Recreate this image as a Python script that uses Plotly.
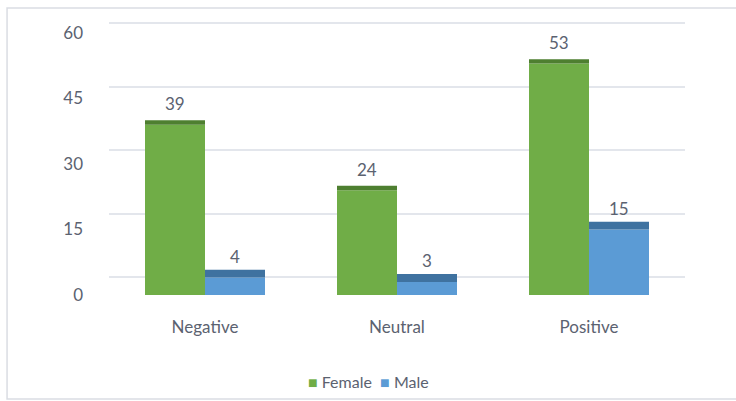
import plotly.graph_objects as go

# données
categories = ['Negative', 'Neutral', 'Positive']
female = [39, 24, 53]
male = [4, 3, 15]
y_ticks = [0, 15, 30, 45, 60]

vert = '#70AD47'
vert_fonce = '#4E7F30'
bleu = '#5B9BD5'
bleu_fonce = '#3F72A0'
gris_texte = '#5B6270'
police = 'Lato'

# épaisseur du "dessus" des barres (effet 3D), en unités de l'axe
ep_f = 1.0
ep_m = 1.8

fig = go.Figure()

fig.add_trace(go.Bar(x=categories, y=female, name='Female',
                     marker=dict(color=vert, line=dict(width=0)),
                     offsetgroup='f'))
fig.add_trace(go.Bar(x=categories, y=male, name='Male',
                     marker=dict(color=bleu, line=dict(width=0)),
                     offsetgroup='m'))

# dessus des barres
fig.add_trace(go.Bar(x=categories, y=[ep_f] * len(female), base=female,
                     marker=dict(color=vert_fonce, line=dict(width=0)),
                     offsetgroup='f', showlegend=False, hoverinfo='skip'))
fig.add_trace(go.Bar(x=categories, y=[ep_m] * len(male), base=male,
                     marker=dict(color=bleu_fonce, line=dict(width=0)),
                     offsetgroup='m', showlegend=False, hoverinfo='skip'))

# trace invisible pour afficher l'axe du fond
fig.add_trace(go.Scatter(x=categories, y=[0] * len(categories), yaxis='y2',
                         mode='markers', marker=dict(opacity=0),
                         showlegend=False, hoverinfo='skip'))

# étiquettes de valeurs
annotations = []
for cat, f, m in zip(categories, female, male):
    annotations.append(dict(x=cat, y=f, xref='x', yref='y', text=str(f),
                            xshift=-30, yshift=21, showarrow=False,
                            font=dict(family=police, size=17, color=gris_texte)))
    annotations.append(dict(x=cat, y=m, xref='x', yref='y', text=str(m),
                            xshift=30, yshift=21, showarrow=False,
                            font=dict(family=police, size=17, color=gris_texte)))

# légende façon Excel
annotations.append(dict(xref='paper', yref='paper', x=0.45, y=-0.314,
                        xanchor='center', yanchor='middle', showarrow=False,
                        text="<span style='color:%s'>■</span> Female  "
                             "<span style='color:%s'>■</span> Male" % (vert, bleu),
                        font=dict(family=police, size=16, color=gris_texte)))

fig.update_layout(
    width=736, height=401,
    barmode='group',
    bargap=0.375,
    bargroupgap=0,
    paper_bgcolor='white',
    plot_bgcolor='rgba(0,0,0,0)',
    margin=dict(l=109, r=51, t=18, b=106),
    font=dict(family=police, size=17, color=gris_texte),
    showlegend=False,
    xaxis=dict(
        showgrid=False, zeroline=False, showline=False,
        ticks='', ticklabelstandoff=20,
        tickfont=dict(family=police, size=17, color=gris_texte),
    ),
    yaxis=dict(
        range=[0, 63.43],
        tickvals=y_ticks,
        showgrid=False,
        zeroline=False, showline=False,
        ticks='', ticklabelstandoff=25,
        tickfont=dict(family=police, size=17, color=gris_texte),
    ),
    # paroi du fond (effet 3D) : quadrillage décalé vers le haut
    yaxis2=dict(
        overlaying='y', side='left',
        range=[-4.25, 61.18],
        tickvals=y_ticks,
        showticklabels=False,
        showgrid=True, gridcolor='#E3E6EC', gridwidth=1.5,
        zeroline=False, showline=False, ticks='',
        layer='below traces',
    ),
    annotations=annotations,
)

# cadre du graphique
fig.add_shape(type='rect', xref='paper', yref='paper',
              x0=-0.177, x1=1.4, y0=-0.375, y1=1.036,
              line=dict(color='#DADDE3', width=1.5), layer='below')

# la page est photographiée à partir du coin haut gauche : pas de marge
fig.write_html('out.html', config={'displayModeBar': False},
               post_script="document.body.style.margin='0';")
